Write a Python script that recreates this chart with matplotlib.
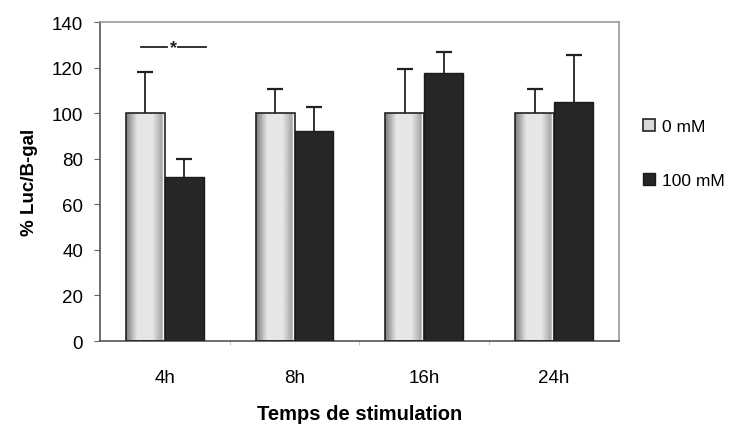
import numpy as np
import matplotlib.pyplot as plt
from matplotlib.patches import Rectangle

plt.rcParams['font.family'] = ['Liberation Sans', 'DejaVu Sans']

# Luciferase / beta-gal ratio, % of control
times = ['4h', '8h', '16h', '24h']
ctrl = [100, 100, 100, 100]
ctrl_err = [18, 10.5, 19.5, 10.5]
treat = [72, 92, 117.5, 105]
treat_err = [8, 10.5, 9.5, 20.5]
labels = ['0 mM', '100 mM']

x = np.arange(len(times))
w = 0.3

fig = plt.figure(figsize=(7.45, 4.27), dpi=100)
ax = fig.add_axes([0.134, 0.199, 0.697, 0.747])

# shaded grey fill for the control bars (dark edges, light centre)
grad = np.concatenate([np.linspace(0.5, 0.9, 10), np.full(12, 0.9),
                       np.linspace(0.9, 0.68, 8), [0.65, 0.95, 0.97]])
grad = grad[np.newaxis, :]

bars0 = ax.bar(x - w / 2, ctrl, w, facecolor='none', edgecolor='#222222',
               linewidth=1.2, label=labels[0], zorder=3)
for b in bars0:
    im = ax.imshow(grad, cmap='gray', vmin=0, vmax=1, aspect='auto',
                   extent=[b.get_x(), b.get_x() + b.get_width(), 0, b.get_height()],
                   zorder=2)
    im.set_clip_path(Rectangle((b.get_x(), 0), b.get_width(), b.get_height(),
                               transform=ax.transData))
bars1 = ax.bar(x + w / 2, treat, w, color='#262626', edgecolor='#1a1a1a',
               linewidth=1.0, label=labels[1], zorder=3)

# upper error bars only (hide the lower caps)
for xs, ys, es in [(x - w / 2, ctrl, ctrl_err), (x + w / 2, treat, treat_err)]:
    eb = ax.errorbar(xs, ys, yerr=[np.zeros(4), es], fmt='none',
                     ecolor='#222222', elinewidth=1.3, capsize=6, capthick=1.6,
                     zorder=4)
    eb[1][0].set_visible(False)

# significance mark at 4h
ax.plot([x[0] - 0.18, x[0] + 0.02], [129, 129], color='#222222', lw=1.3)
ax.plot([x[0] + 0.1, x[0] + 0.32], [129, 129], color='#222222', lw=1.3)
ax.text(x[0] + 0.065, 129, '*', ha='center', va='center', fontsize=13,
        fontweight='bold', color='#222222')

ax.set_xlim(-0.5, 3.5)
ax.set_ylim(0, 140)
ax.set_yticks(range(0, 141, 20))
ax.set_xticks(x)
ax.set_xticklabels(times)
ax.set_xticks(x[:-1] + 0.5, minor=True)
ax.tick_params(axis='y', labelsize=13.5, length=4, color='#666666', pad=8)
ax.tick_params(axis='x', which='major', labelsize=13.5, length=0, pad=20)
ax.tick_params(axis='x', which='minor', length=3, color='#bbbbbb')

for s in ['top', 'right']:
    ax.spines[s].set_color('#999999')
for s in ['left', 'bottom']:
    ax.spines[s].set_color('#555555')
for s in ax.spines.values():
    s.set_linewidth(1.2)

ax.set_ylabel('% Luc/B-gal', fontsize=13.5, fontweight='bold', labelpad=10)
ax.set_xlabel('Temps de stimulation', fontsize=14.5, fontweight='bold', labelpad=13)

handles = [Rectangle((0, 0), 1, 1, facecolor='#d9d9d9', edgecolor='#222222', lw=1.2),
           Rectangle((0, 0), 1, 1, facecolor='#262626', edgecolor='#1a1a1a')]
fig.legend(handles, labels, loc='center left', bbox_to_anchor=(0.842, 0.638),
           frameon=False, fontsize=12.5, handlelength=0.7, handleheight=0.7,
           handletextpad=0.4, labelspacing=2.2)

fig.savefig('out.png', dpi=100)
